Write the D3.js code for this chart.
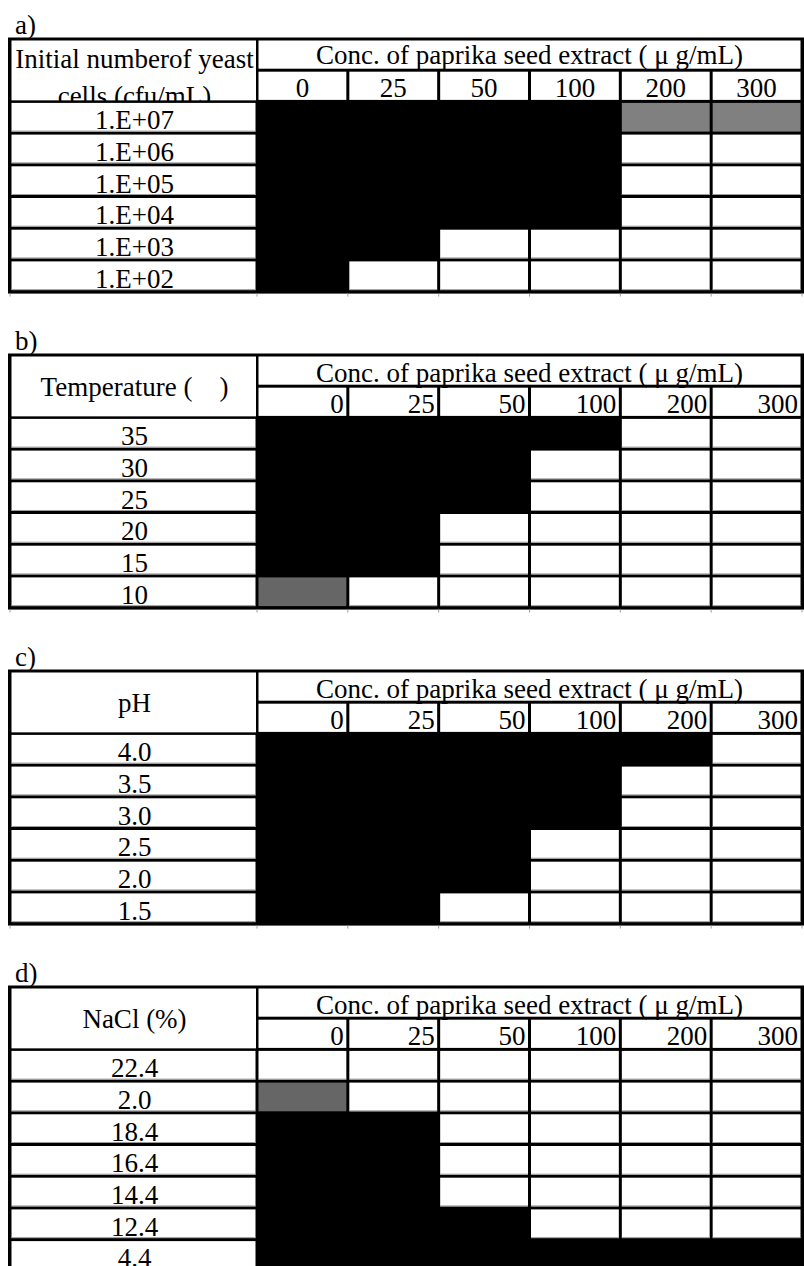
<!DOCTYPE html>
<html>
<head>
<meta charset="utf-8">
<script src="https://cdn.jsdelivr.net/npm/d3@7"></script>
<style>
  html, body { margin: 0; padding: 0; background: #fff; }
  svg { display: block; }
</style>
</head>
<body>
<script>
// Growth of yeast with paprika seed extract under four culture conditions.
// Growth codes: 2 = growth (black), 1 = weak growth (grey), 0 = no growth (white).

const concentrations = ["0", "25", "50", "100", "200", "300"];
const concTitle = "Conc. of paprika seed extract ( \u03bc g/mL)";

// a) initial number of yeast cells
const cellRows = ["1.E+07", "1.E+06", "1.E+05", "1.E+04", "1.E+03", "1.E+02"];
const cellGrowth = [
  [2, 2, 2, 2, 1, 1],
  [2, 2, 2, 2, 0, 0],
  [2, 2, 2, 2, 0, 0],
  [2, 2, 2, 2, 0, 0],
  [2, 2, 0, 0, 0, 0],
  [2, 0, 0, 0, 0, 0]
];

// b) temperature
const tempRows = ["35", "30", "25", "20", "15", "10"];
const tempGrowth = [
  [2, 2, 2, 2, 0, 0],
  [2, 2, 2, 0, 0, 0],
  [2, 2, 2, 0, 0, 0],
  [2, 2, 0, 0, 0, 0],
  [2, 2, 0, 0, 0, 0],
  [1, 0, 0, 0, 0, 0]
];

// c) pH
const phRows = ["4.0", "3.5", "3.0", "2.5", "2.0", "1.5"];
const phGrowth = [
  [2, 2, 2, 2, 2, 0],
  [2, 2, 2, 2, 0, 0],
  [2, 2, 2, 2, 0, 0],
  [2, 2, 2, 0, 0, 0],
  [2, 2, 2, 0, 0, 0],
  [2, 2, 0, 0, 0, 0]
];

// d) NaCl
const naclRows = ["22.4", "2.0", "18.4", "16.4", "14.4", "12.4", "4.4"];
const naclGrowth = [
  [0, 0, 0, 0, 0, 0],
  [1, 0, 0, 0, 0, 0],
  [2, 2, 0, 0, 0, 0],
  [2, 2, 0, 0, 0, 0],
  [2, 2, 0, 0, 0, 0],
  [2, 2, 2, 0, 0, 0],
  [2, 2, 2, 2, 2, 2]
];

const panels = [
  { tag: "a)", head: ["Initial numberof yeast", "cells (cfu/mL)"], rows: cellRows, growth: cellGrowth, weak: "#808080", numAlign: "middle" },
  { tag: "b)", head: ["Temperature (\u2003)"], rows: tempRows, growth: tempGrowth, weak: "#666666", numAlign: "end" },
  { tag: "c)", head: ["pH"], rows: phRows, growth: phGrowth, weak: "#666666", numAlign: "end" },
  { tag: "d)", head: ["NaCl (%)"], rows: naclRows, growth: naclGrowth, weak: "#666666", numAlign: "end" }
];

const W = 804, H = 1266;
const FONT = "'Liberation Serif', 'Times New Roman', serif";
const FS = 27;
const tableTops = [39, 355, 671, 987];
const headH = 31.2, rowH = 31.7;
const xLeft = 10, xSplit = 257, xRight = 802;
const INSET = 1.5;

const svg = d3.select("body").append("svg")
  .attr("width", W).attr("height", H)
  .attr("font-family", FONT).attr("font-size", FS);

const x = d3.scaleBand().domain(concentrations).range([xSplit, xRight]);

function cell(g, x0, x1, y0, y1, fill, rule) {
  g.append("rect")
    .attr("x", x0 + INSET).attr("y", y0 + INSET)
    .attr("width", x1 - x0 - 2 * INSET).attr("height", y1 - y0 - 2 * INSET)
    .attr("fill", fill);
  if (rule) {
    g.append("line")
      .attr("x1", x0 + INSET).attr("x2", x1 - INSET)
      .attr("y1", y1 - INSET - 0.5).attr("y2", y1 - INSET - 0.5)
      .attr("stroke", "#9c9c9c").attr("stroke-width", 1);
  }
}

panels.forEach((p, i) => {
  const top = tableTops[i];
  const dataTop = top + 2 * headH;
  const bottom = dataTop + p.rows.length * rowH;
  const y = d3.scaleBand().domain(p.rows).range([dataTop, bottom]);
  const fill = d3.scaleOrdinal().domain([0, 1, 2]).range(["#ffffff", p.weak, "#000000"]);
  const g = svg.append("g");

  // panel tag
  g.append("text").attr("x", 15).attr("y", top - 5).text(p.tag);

  // frame: black ground shows through as the grid rules
  g.append("rect")
    .attr("x", xLeft - 2).attr("y", top - 1.5)
    .attr("width", W - (xLeft - 2)).attr("height", bottom - top + 3.5)
    .attr("fill", "#000");

  // header cells
  cell(g, xLeft, xSplit + 0.5, top, dataTop + 1, "#fff", false);
  cell(g, xSplit, xRight, top, top + headH, "#fff", false);
  concentrations.forEach(c => {
    cell(g, x(c), x(c) + x.bandwidth(), top + headH, dataTop, "#fff", false);
  });

  // header texts
  const cx = (xSplit + xRight) / 2;
  g.append("text")
    .attr("x", cx).attr("y", top + headH - (i === 0 ? 6 : 4))
    .attr("text-anchor", "middle").text(concTitle);

  g.selectAll(".num").data(concentrations).join("text")
    .attr("class", "num")
    .attr("x", c => p.numAlign === "middle" ? x(c) + x.bandwidth() / 2 : x(c) + x.bandwidth() - 4)
    .attr("y", dataTop - 4)
    .attr("text-anchor", p.numAlign)
    .text(c => c);

  const lx = (xLeft + xSplit) / 2 + 1;
  if (p.head.length === 2) {
    g.append("text").attr("x", lx).attr("y", top + 29).attr("text-anchor", "middle").text(p.head[0]);
    g.append("text").attr("x", lx).attr("y", top + 66).attr("text-anchor", "middle").text(p.head[1]);
  } else {
    g.append("text").attr("x", lx).attr("y", top + headH + 10)
      .attr("text-anchor", "middle").attr("xml:space", "preserve").text(p.head[0]);
  }

  // divider under the header
  g.append("rect")
    .attr("x", xLeft - 2).attr("y", dataTop - 1)
    .attr("width", xSplit - xLeft + 2).attr("height", 3)
    .attr("fill", "#000");

  // data rows
  p.rows.forEach((r, ri) => {
    const y0 = y(r), y1 = y0 + y.bandwidth();
    cell(g, xLeft, xSplit, y0, y1, "#fff", true);
    g.append("text")
      .attr("x", lx).attr("y", y1 - 4)
      .attr("text-anchor", "middle").text(r);

    concentrations.forEach((c, ci) => {
      const v = p.growth[ri][ci];
      const x0 = x(c), x1 = x0 + x.bandwidth();
      if (v === 2) {
        g.append("rect").attr("x", x0).attr("y", y0)
          .attr("width", x1 - x0).attr("height", y1 - y0).attr("fill", fill(v));
      } else {
        cell(g, x0, x1, y0, y1, fill(v), v === 0);
      }
    });
  });

  // small ticks under the table at the column edges
  const edges = [xLeft, xSplit].concat(concentrations.slice(1).map(c => x(c))).concat([xRight]);
  g.selectAll(".tick").data(edges).join("line")
    .attr("class", "tick")
    .attr("x1", d => d).attr("x2", d => d)
    .attr("y1", bottom + 2).attr("y2", bottom + 5)
    .attr("stroke", "#a0a0a0").attr("stroke-width", 1);
});
</script>
</body>
</html>
